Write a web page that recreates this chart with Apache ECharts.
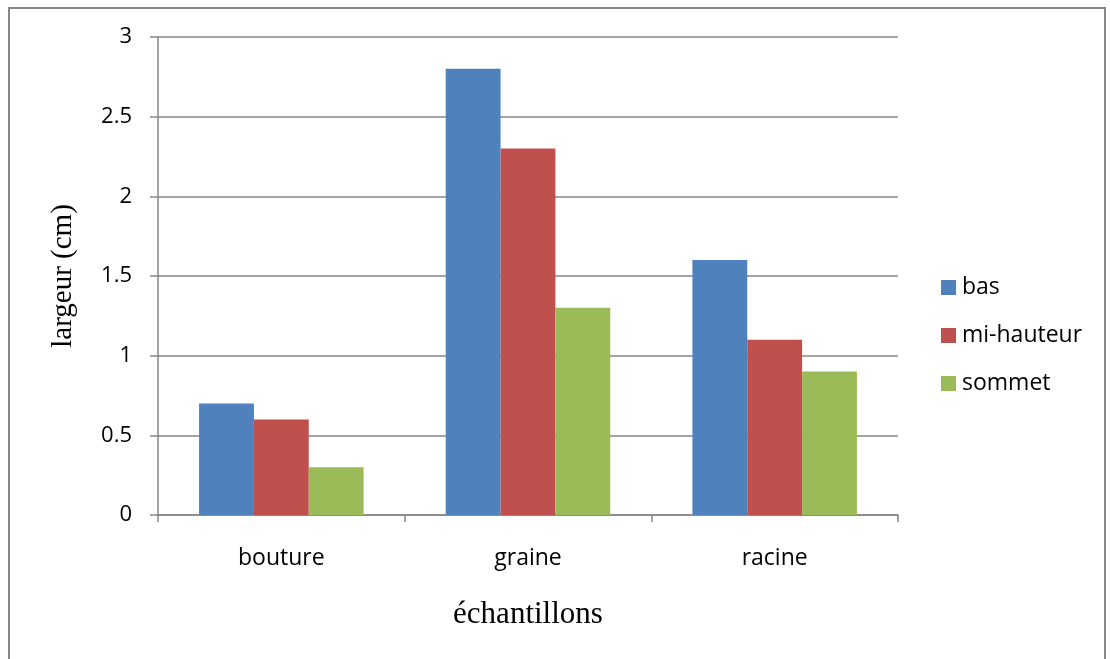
<!DOCTYPE html>
<html>
<head>
<meta charset="utf-8">
<script src="https://cdn.jsdelivr.net/npm/echarts@6/dist/echarts.min.js"></script>
<style>
  html, body { margin: 0; padding: 0; background: #fff; }
  #chart { width: 1110px; height: 659px; }
</style>
</head>
<body>
<div id="chart"></div>
<script>
// Sample types along the x axis
const categories = ['bouture', 'graine', 'racine'];
// Width (cm) measured at three heights
const bas = [0.7, 2.8, 1.6];
const miHauteur = [0.6, 2.3, 1.1];
const sommet = [0.3, 1.3, 0.9];
const seriesNames = ['bas', 'mi-hauteur', 'sommet'];
const colors = ['#4F81BD', '#C0504D', '#9BBB59'];

const labelFont = 'Open Sans';
const titleFont = 'Liberation Serif';

const chart = echarts.init(document.getElementById('chart'));
chart.setOption({
  animation: false,
  backgroundColor: '#fff',
  color: colors,
  graphic: [{
    type: 'rect',
    shape: { x: 9, y: 8, width: 1096, height: 680 },
    style: { fill: 'none', stroke: '#878787', lineWidth: 2 },
    silent: true
  }],
  grid: { left: 158, top: 37, right: 212, bottom: 144, containLabel: false },
  legend: {
    orient: 'vertical',
    left: 941,
    top: 276,
    padding: 0,
    icon: 'rect',
    itemWidth: 15,
    itemHeight: 15,
    itemGap: 25,
    textStyle: { fontFamily: labelFont, fontSize: 23, color: '#000', padding: [0, 0, 0, 1] },
    data: seriesNames
  },
  xAxis: {
    type: 'category',
    data: categories,
    name: 'échantillons',
    nameLocation: 'middle',
    nameGap: 84,
    nameTextStyle: { fontFamily: titleFont, fontSize: 31, color: '#000' },
    axisLine: { lineStyle: { color: '#878787', width: 1.5 } },
    axisTick: { show: true, length: 7, lineStyle: { color: '#878787', width: 1.5 } },
    axisLabel: { fontFamily: labelFont, fontSize: 23, color: '#000', margin: 32 }
  },
  yAxis: {
    type: 'value',
    min: 0,
    max: 3,
    interval: 0.5,
    name: 'largeur (cm)',
    nameLocation: 'middle',
    nameGap: 80,
    nameTextStyle: { fontFamily: titleFont, fontSize: 29, color: '#000' },
    axisLine: { show: true, lineStyle: { color: '#878787', width: 1.5 } },
    axisTick: { show: true, length: 8, lineStyle: { color: '#878787', width: 1.5 } },
    axisLabel: { fontFamily: labelFont, fontSize: 22, color: '#000', margin: 26 },
    splitLine: { lineStyle: { color: '#878787', width: 1.5 } }
  },
  series: [
    { name: seriesNames[0], type: 'bar', data: bas, barGap: '0%', barCategoryGap: '33.3%' },
    { name: seriesNames[1], type: 'bar', data: miHauteur, barGap: '0%', barCategoryGap: '33.3%' },
    { name: seriesNames[2], type: 'bar', data: sommet, barGap: '0%', barCategoryGap: '33.3%' }
  ]
});
</script>
</body>
</html>
